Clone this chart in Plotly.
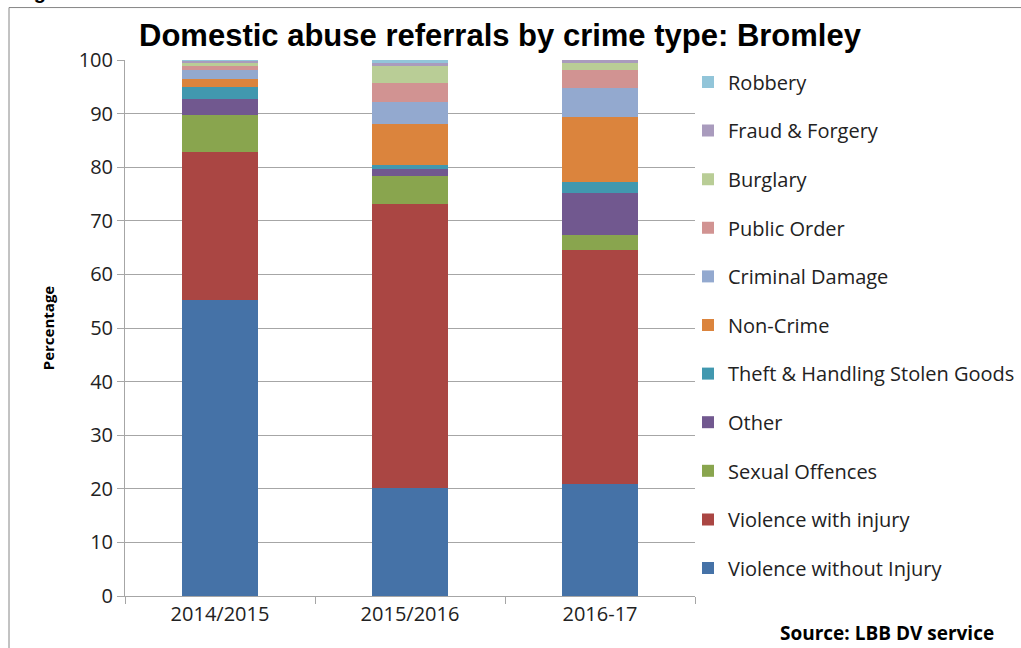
import plotly.graph_objects as go

# Financial years on the category axis
years = ["2014/2015", "2015/2016", "2016-17"]

# Share of domestic abuse referrals (%) by crime type, stacked bottom to top
violence_without_injury = [55.2, 20.2, 20.9]
violence_with_injury = [27.7, 52.9, 43.6]
sexual_offences = [6.9, 5.2, 2.8]
other = [3.0, 1.3, 7.9]
theft_handling = [2.2, 0.9, 2.0]
non_crime = [1.5, 7.6, 12.1]
criminal_damage = [1.7, 4.0, 5.5]
public_order = [0.6, 3.7, 3.3]
burglary = [0.6, 3.0, 1.3]
fraud_forgery = [0.5, 0.6, 0.6]
robbery = [0.1, 0.6, 0.0]

y_ticks = [0, 10, 20, 30, 40, 50, 60, 70, 80, 90, 100]

series = [
    ("Violence without Injury", violence_without_injury, "#4572A7"),
    ("Violence with injury", violence_with_injury, "#AA4643"),
    ("Sexual Offences", sexual_offences, "#89A54E"),
    ("Other", other, "#71588F"),
    ("Theft & Handling Stolen Goods", theft_handling, "#4198AF"),
    ("Non-Crime", non_crime, "#DB843D"),
    ("Criminal Damage", criminal_damage, "#93A9CF"),
    ("Public Order", public_order, "#D19392"),
    ("Burglary", burglary, "#B9CD96"),
    ("Fraud & Forgery", fraud_forgery, "#A99BBD"),
    ("Robbery", robbery, "#92C5D9"),
]

W, H = 1021, 648
L, R, T, B = 125, 326, 59.5, 52
pw, ph = W - L - R, H - T - B


def px(x):
    return (x - L) / pw


def py(y):
    return (H - B - y) / ph


fig = go.Figure()
for i, (name, vals, color) in enumerate(series):
    fig.add_trace(go.Bar(
        x=years, y=vals, name=name, legendgroup=name,
        legendrank=100 - i,  # top of the stack listed first
        marker=dict(color=color, line=dict(width=0)),
    ))

axis_font = dict(family="Open Sans", size=20, color="#222222")

fig.update_layout(
    width=W, height=H,
    margin=dict(l=L, r=R, t=T, b=B, autoexpand=False),
    barmode="stack",
    bargap=0.6,
    plot_bgcolor="white",
    paper_bgcolor="white",
    title=dict(
        text="<b>Domestic abuse referrals by crime type: Bromley</b>",
        font=dict(family="Liberation Sans", size=31, color="black"),
        x=px(500), xanchor="center", xref="paper",
        y=1 - 35 / H, yanchor="middle",
    ),
    xaxis=dict(
        showgrid=False, showline=True, linecolor="#A6A6A6", linewidth=1,
        ticks="outside", ticklen=7, tickcolor="#A6A6A6",
        tickson="boundaries", tickfont=axis_font,
    ),
    yaxis=dict(
        range=[0, 100], tickvals=y_ticks, showgrid=True, gridcolor="#A6A6A6",
        gridwidth=1, showline=True, linecolor="#A6A6A6", linewidth=1,
        ticks="outside", ticklen=7, tickcolor="#A6A6A6", tickfont=axis_font,
        zeroline=False,
        title=dict(text="<b>Percentage</b>",
                   font=dict(family="Open Sans", size=15, color="black"),
                   standoff=20),
    ),
    legend=dict(
        traceorder="grouped",
        tracegroupgap=19.6,
        font=dict(family="Open Sans", size=20, color="#222222"),
        x=px(688), xanchor="left",
        y=py(62), yanchor="top",
        bgcolor="rgba(0,0,0,0)",
    ),
    shapes=[
        dict(type="rect", xref="paper", yref="paper",
             x0=px(9), x1=px(W + 20), y0=py(H + 20), y1=py(7),
             line=dict(color="#868686", width=1), fillcolor="rgba(0,0,0,0)",
             layer="below"),
    ],
    annotations=[
        dict(text="<b>Source: LBB DV service</b>", xref="paper", yref="paper",
             x=px(996), y=py(633), xanchor="right", yanchor="middle",
             showarrow=False,
             font=dict(family="Open Sans", size=19, color="black")),
        dict(text="<b>Figure 3</b>", xref="paper", yref="paper",
             x=px(14), y=py(4), xanchor="left", yanchor="bottom",
             showarrow=False,
             font=dict(family="Liberation Sans", size=20, color="black")),
    ],
)

fig.write_html("out.html")
